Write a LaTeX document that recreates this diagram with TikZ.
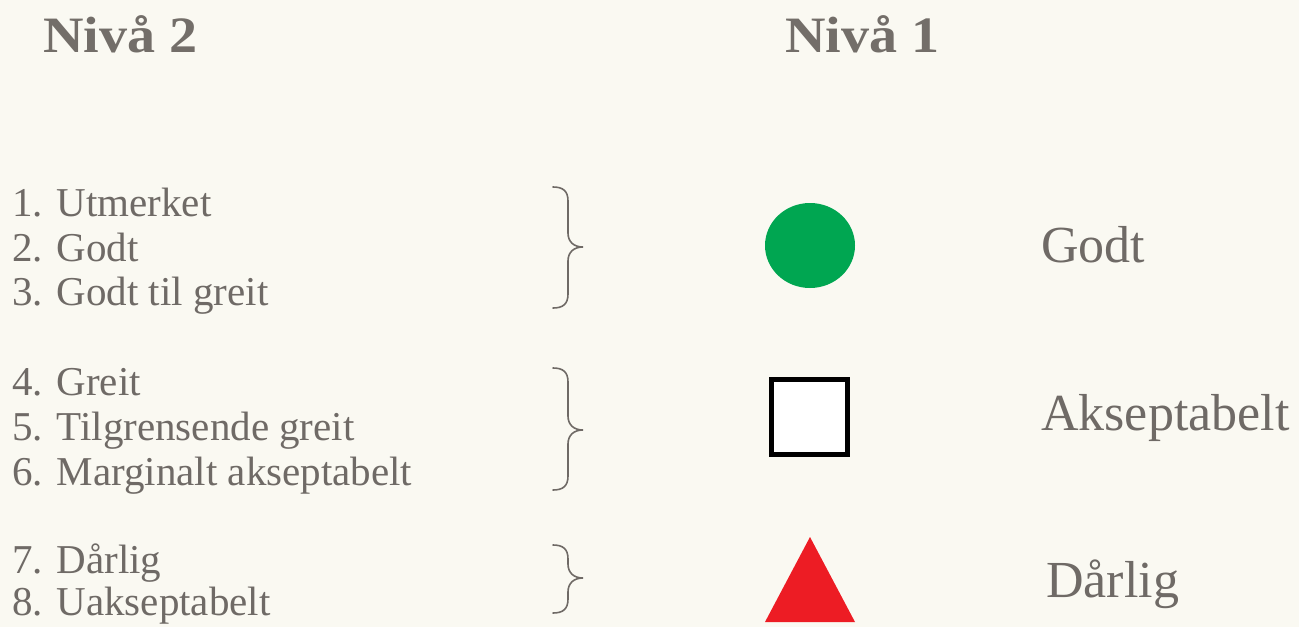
\documentclass[tikz,border=0pt]{standalone}
\usepackage{fontspec}
\setmainfont{Liberation Serif}
\definecolor{bg}{HTML}{FAF9F2}
\definecolor{txt}{HTML}{6F6A66}
\definecolor{hdr}{HTML}{736E69}
\definecolor{okgreen}{HTML}{00A651}
\definecolor{badred}{HTML}{ED1C24}
\tikzset{
  item/.style={anchor=base west, inner sep=0pt, text=txt, font=\fontsize{41}{45}\selectfont},
  header/.style={anchor=base west, inner sep=0pt, text=hdr, font=\fontsize{51}{60}\selectfont\bfseries},
  label/.style={anchor=base west, inner sep=0pt, text=txt, font=\fontsize{52}{60}\selectfont},
  bracestyle/.style={draw=txt, line width=1.6pt, line cap=round}
}
\newcommand{\groupbrace}[4]{% name, ytop, ymid, ybot
  \draw[bracestyle] (553,#2) .. controls (563,#2) and (568,#2+4) .. (568,#2+14)
    -- (568,#3-14) .. controls (568,#3-5) and (574,#3) .. (583,#3)
    .. controls (574,#3) and (568,#3+5) .. (568,#3+14)
    -- (568,#4-14) .. controls (568,#4-4) and (563,#4) .. (553,#4);
  \coordinate (#1) at (583,#3);
}
\begin{document}
\begin{tikzpicture}[x=1pt,y=-1pt]
\fill[bg] (0,0) rectangle (1299,627);
\useasboundingbox (0,0) rectangle (1299,627);

\node[header] (h2) at (43,52) {\scalebox{1.1}[1]{Nivå 2}};
\node[header] (h1) at (785,52) {\scalebox{1.1}[1]{Nivå 1}};

\node[item] (i1) at (12,216) {1. Utmerket};
\node[item] (i2) at (12,261) {2. Godt};
\node[item] (i3) at (12,305) {3. Godt til greit};
\node[item] (i4) at (12,395) {4. Greit};
\node[item] (i5) at (12,440) {5. Tilgrensende greit};
\node[item] (i6) at (12,485) {6. Marginalt akseptabelt};
\node[item] (i7) at (12,573) {7. Dårlig};
\node[item] (i8) at (12,615) {8. Uakseptabelt};

\groupbrace{b1}{187}{247}{308}
\groupbrace{b2}{368}{430}{490}
\groupbrace{b3}{545}{578}{613}

\fill[okgreen] (810,245.5) ellipse [x radius=45, y radius=42.5];
\draw[black, line width=5pt, fill=white] (771.5,379.5) rectangle (847.5,454.5);
\fill[badred] (810,537) -- (855,622) -- (765,622) -- cycle;

\node[label] (l1) at (1041,262) {Godt};
\node[label] (l2) at (1041,430) {Akseptabelt};
\node[label] (l3) at (1046,597) {Dårlig};
\end{tikzpicture}
\end{document}
